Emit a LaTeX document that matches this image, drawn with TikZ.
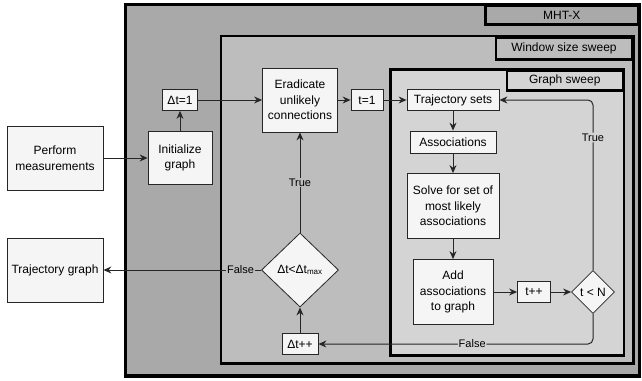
\documentclass[tikz,border=0pt]{standalone}
\usepackage{fontspec}
\setmainfont{Liberation Sans}
\usetikzlibrary{shapes.geometric,arrows.meta,positioning}
\definecolor{mhtgray}{HTML}{A9A9A9}
\definecolor{wingray}{HTML}{BDBDBD}
\definecolor{graphgray}{HTML}{D4D4D4}
\definecolor{boxfill}{HTML}{F5F5F5}
\definecolor{linegray}{HTML}{262626}
\tikzstyle{block} = [draw=linegray,line width=0.8pt,fill=boxfill,align=center,inner sep=1pt]
\tikzstyle{decision} = [diamond,draw=linegray,line width=0.8pt,fill=boxfill,align=center,inner sep=0pt]
\tikzstyle{edge} = [draw=linegray,line width=1pt,->]
\tikzstyle{frame} = [draw=black,line width=2.5pt]
\tikzstyle{tag} = [frame,anchor=north east,inner sep=0pt]
\tikzstyle{cond} = [font=\fontsize{11}{13}\selectfont,text=black,inner sep=1pt]

\begin{document}
\begin{tikzpicture}[x=1pt,y=-1pt,>={Stealth[length=8pt,width=7pt]},font=\fontsize{12}{15.5}\selectfont]
   \useasboundingbox (0,0) rectangle (642,380);
   % nested loops
   \draw[frame,line width=3.5pt,fill=mhtgray] (125.5,4.5) rectangle (639.5,376);
   \node[tag,fill=mhtgray,minimum width=153pt,minimum height=18.5pt] (mhtx) at (639.5,4.5) {MHT-X};
   \draw[frame,fill=wingray] (221,36) rectangle (633.5,363.5);
   \node[tag,fill=wingray,minimum width=136.5pt,minimum height=22pt] (winsweep) at (633.5,36) {Window size sweep};
   \draw[frame,fill=graphgray] (390.5,69.5) rectangle (624,355.5);
   \node[tag,fill=graphgray,minimum width=116pt,minimum height=19.5pt] (graphsweep) at (624,69.5) {Graph sweep};

   \node[block,minimum width=96pt,minimum height=64pt] (measure) at (55,158) {Perform\\measurements};
   \node[block,minimum width=96pt,minimum height=64pt] (trajgraph) at (55,270) {Trajectory graph};
   \node[block,minimum width=64pt,minimum height=53pt] (init) at (180,158) {Initialize\\graph};
   \node[block,minimum width=35pt,minimum height=21pt] (dtinit) at (180,100) {Δt=1};
   \node[block,minimum width=75pt,minimum height=64pt] (eradicate) at (300,100) {Eradicate\\unlikely\\connections};
   \node[block,minimum width=32pt,minimum height=21pt] (tinit) at (367,100) {t=1};
   \node[block,minimum width=92pt,minimum height=21pt] (trajsets) at (453,100) {Trajectory sets};
   \node[block,minimum width=86pt,minimum height=22pt] (assoc) at (453,142) {Associations};
   \node[block,minimum width=92pt,minimum height=65pt] (solve) at (453,206) {Solve for set of\\most likely\\associations};
   \node[block,minimum width=80pt,minimum height=65pt] (addassoc) at (453,292) {Add\\associations\\to graph};
   \node[block,minimum width=33pt,minimum height=21pt] (tinc) at (534,292) {t++};
   \node[decision,minimum width=43pt,minimum height=43pt] (tcheck) at (593,292) {t < N};
   \node[decision,minimum width=77pt,minimum height=74pt] (dtcheck) at (300,270) {Δt<Δt\textsubscript{max}};
   \node[block,minimum width=36pt,minimum height=21pt] (dtinc) at (300,344) {Δt++};

   \path[edge] (measure) -- (init);
   \path[edge] (init) -- (dtinit);
   \path[edge] (dtinit) -- (eradicate);
   \path[edge] (eradicate) -- (tinit);
   \path[edge] (tinit) -- (trajsets);
   \path[edge] (trajsets) -- (assoc);
   \path[edge] (assoc) -- (solve);
   \path[edge] (solve) -- (addassoc);
   \path[edge] (addassoc) -- (tinc);
   \path[edge] (tinc) -- (tcheck);
   \path[edge,rounded corners=5pt] (tcheck.north) |- node[cond,fill=graphgray,pos=0.39] {True} (trajsets.east);
   \path[edge,rounded corners=5pt] (tcheck.south) |- node[cond,fill=graphgray,pos=0.72] {False} (dtinc.east);
   \path[edge] (dtinc) -- (dtcheck);
   \path[edge] (dtcheck) -- node[cond,fill=wingray] {True} (eradicate);
   \path[edge] (dtcheck) -- node[cond,fill=wingray,pos=0.13] {False} (trajgraph);
\end{tikzpicture}
\end{document}
